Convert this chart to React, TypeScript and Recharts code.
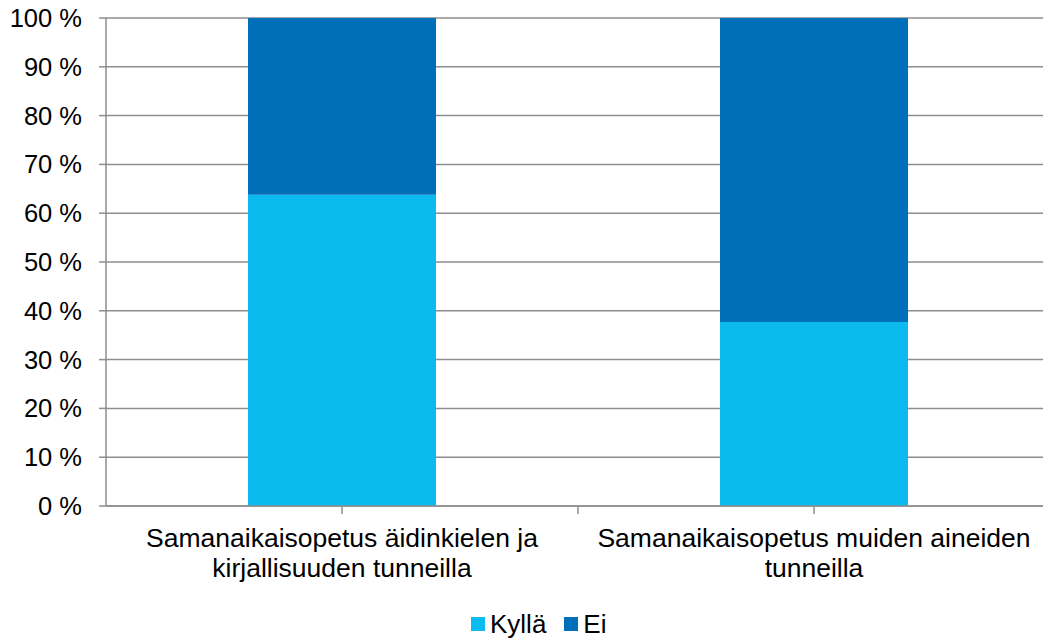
import React from 'react';
import { BarChart, Bar, XAxis, YAxis, CartesianGrid } from 'recharts';

const categories = ['cat1', 'cat2'];
const categoryLines = [
  ['Samanaikaisopetus äidinkielen ja', 'kirjallisuuden tunneilla'],
  ['Samanaikaisopetus muiden aineiden', 'tunneilla'],
];
const kylla = [63.8, 37.7];
const ei = [36.2, 62.3];
const yTicks = [0, 10, 20, 30, 40, 50, 60, 70, 80, 90, 100];
const seriesNames = ['Kyllä', 'Ei'];

const LIGHT = '#0bbbef';
const DARK = '#006fba';
const GRID = '#8e8e8e';
const FONT = '"Liberation Sans", Arial, sans-serif';
const FS = 26.5;

const CHART_W = 1060;
const CHART_H = 639;
const YAXIS_W = 106;
const MARGIN = { top: 18, right: 10, left: 0, bottom: 43 };
const HALF_CAT = (CHART_W - YAXIS_W - MARGIN.right - MARGIN.left) / categories.length / 2;

const data = categories.map((c, i) => ({
  name: c,
  kylla: kylla[i],
  ei: ei[i],
}));

const XTick = ({ x, y, index }: any) => {
  const lines = categoryLines[index] || [];
  return (
    <g>
      {index > 0 && (
        <line x1={x - HALF_CAT} x2={x - HALF_CAT} y1={y - 10} y2={y - 2} stroke={GRID} strokeWidth={1.5} />
      )}
      <text x={x} y={y} textAnchor="middle" fontFamily={FONT} fontSize={FS} fill="#000">
        {lines.map((l: string, i: number) => (
          <tspan key={i} x={x} y={y + 31 + i * 30}>
            {l}
          </tspan>
        ))}
      </text>
    </g>
  );
};

const LegendBox = () => (
  <div
    style={{
      position: 'absolute',
      top: 609,
      left: 471,
      display: 'flex',
      alignItems: 'center',
      fontFamily: FONT,
      fontSize: 26,
      lineHeight: '30px',
      color: '#000',
    }}
  >
    {seriesNames.map((n, i) => (
      <div key={n} style={{ display: 'flex', alignItems: 'center', marginRight: 18 }}>
        <span style={{ width: 14, height: 14, background: i === 0 ? LIGHT : DARK, marginRight: 5, display: 'inline-block' }} />
        <span>{n}</span>
      </div>
    ))}
  </div>
);

export default function App() {
  return (
    <div style={{ position: 'absolute', top: 0, left: 0, width: 1043, height: 639, overflow: 'hidden', background: '#fff' }}>
      <BarChart width={CHART_W} height={CHART_H} data={data} margin={MARGIN}>
        <CartesianGrid vertical={false} stroke={GRID} strokeWidth={1.5} />
        <XAxis
          dataKey="name"
          interval={0}
          axisLine={{ stroke: GRID, strokeWidth: 1.5 }}
          tickLine={{ stroke: GRID, strokeWidth: 1.5 }}
          tickSize={8}
          height={90}
          tick={<XTick />}
        />
        <YAxis
          width={YAXIS_W}
          domain={[0, 100]}
          ticks={yTicks}
          interval={0}
          tickFormatter={(v: number) => `${v} %`}
          axisLine={{ stroke: GRID, strokeWidth: 1.5 }}
          tickLine={{ stroke: GRID, strokeWidth: 1.5 }}
          tickSize={7}
          tickMargin={17}
          tick={{ fill: '#000', fontSize: 25.5, fontFamily: FONT }}
        />
        <Bar dataKey="kylla" name="Kyllä" stackId="a" fill={LIGHT} barSize={188} isAnimationActive={false} />
        <Bar dataKey="ei" name="Ei" stackId="a" fill={DARK} barSize={188} isAnimationActive={false} />
      </BarChart>
      <LegendBox />
    </div>
  );
}
